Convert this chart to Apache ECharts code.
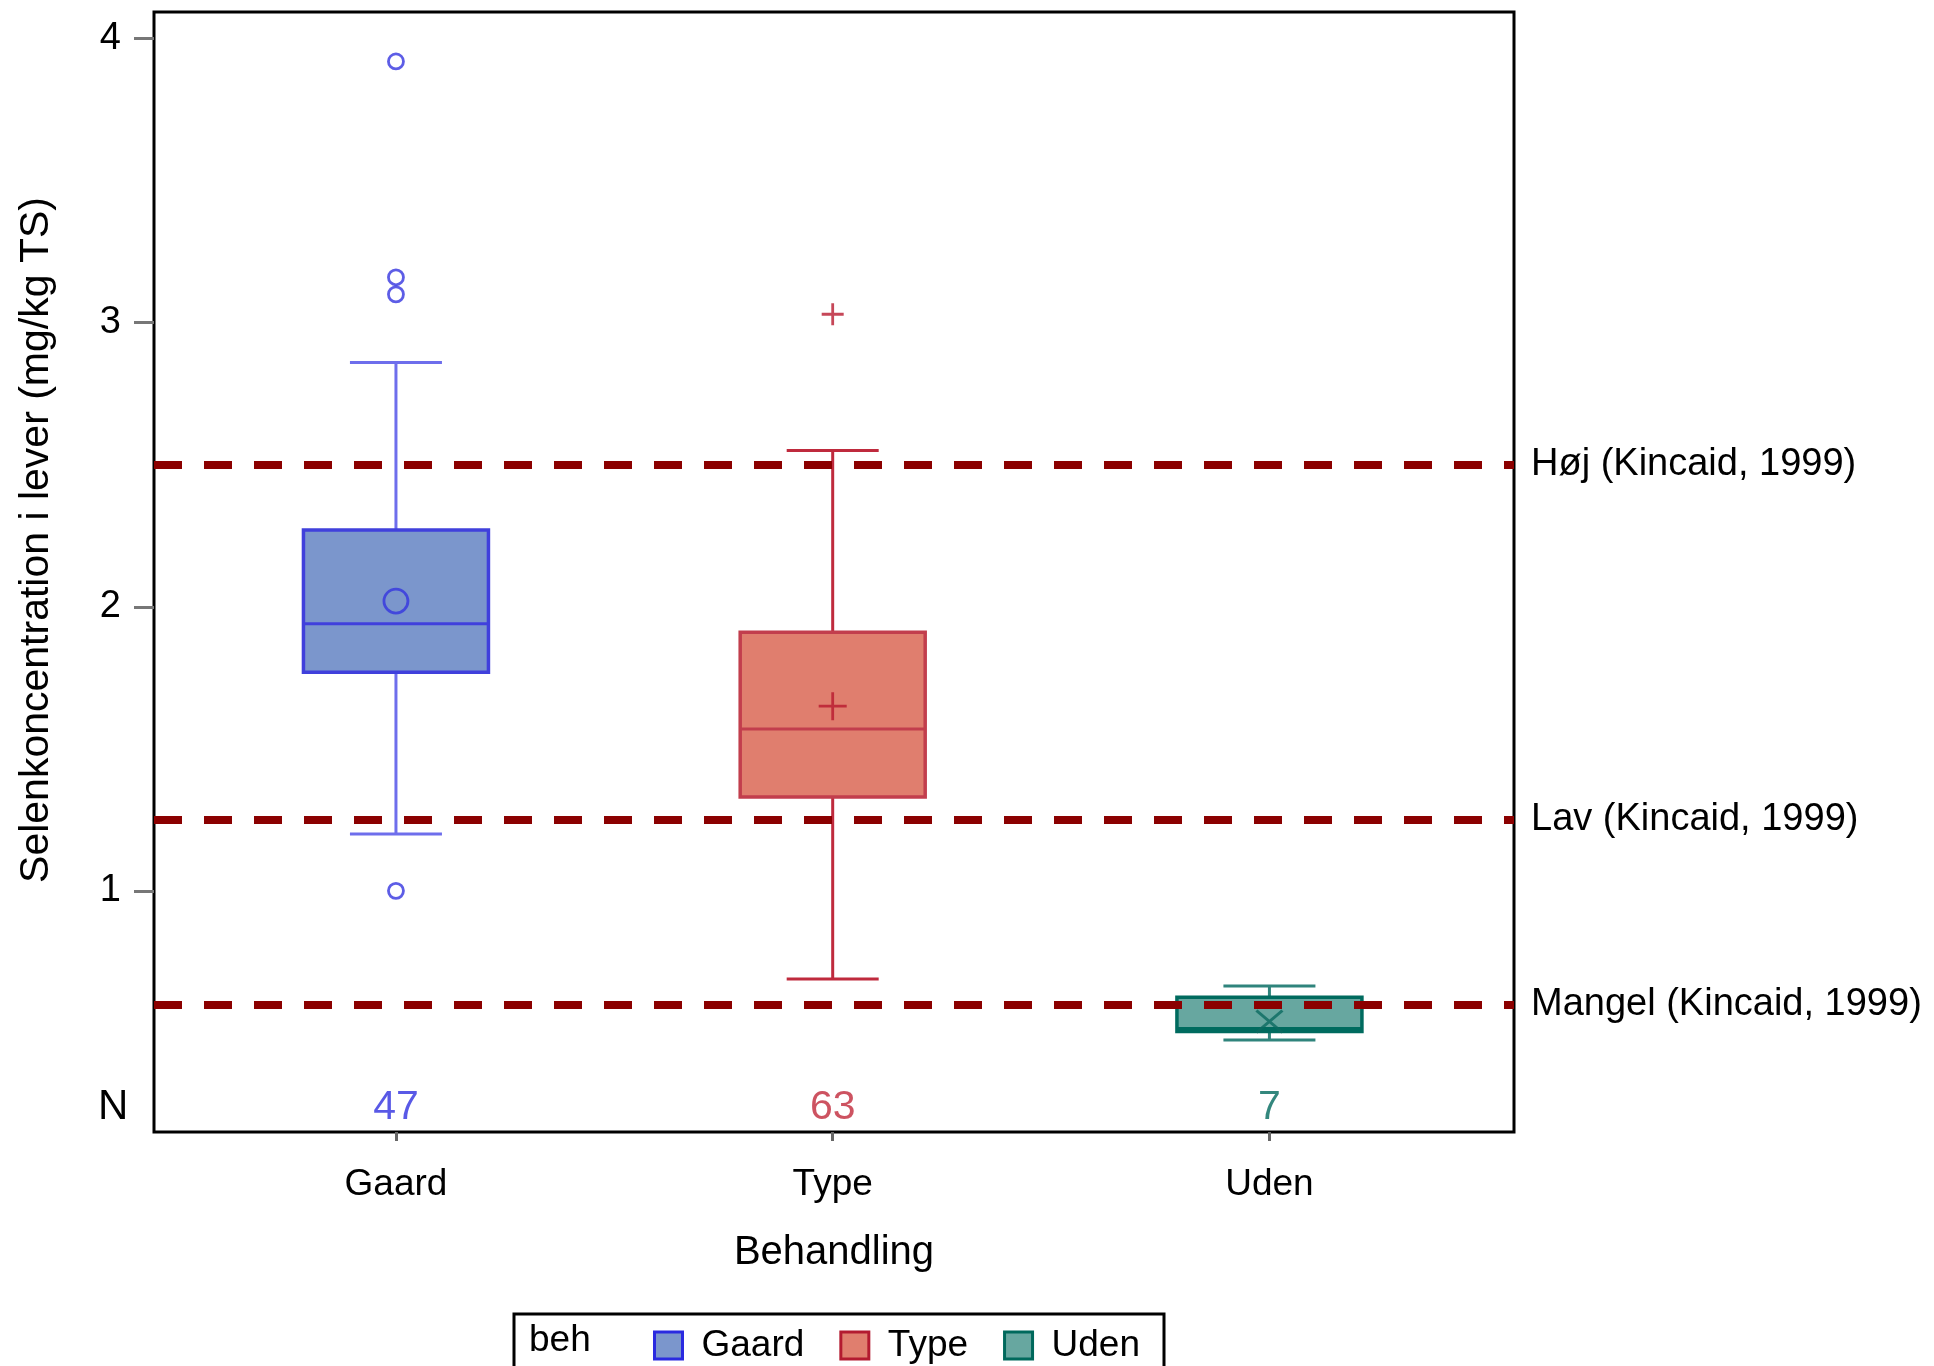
<!DOCTYPE html>
<html>
<head>
<meta charset="utf-8">
<title>Selenkoncentration i lever</title>
<style>
  html, body { margin: 0; padding: 0; background: #fff; }
  #chart { width: 1934px; height: 1366px; }
</style>
<script src="https://cdn.jsdelivr.net/npm/echarts@6/dist/echarts.min.js"></script>
</head>
<body>
<div id="chart"></div>
<script>
// ---- data ----
const categories = ['Gaard', 'Type', 'Uden'];
// five-number summaries: [lower whisker, Q1, median, Q3, upper whisker]
const gaardSummary = [1.20, 1.77, 1.94, 2.27, 2.86];
const typeSummary = [0.69, 1.33, 1.57, 1.91, 2.55];
const udenSummary = [0.475, 0.505, 0.515, 0.625, 0.665];
const groupMeans = [2.02, 1.65, 0.54];
const gaardOutliers = [3.92, 3.16, 3.10, 1.00];
const typeOutliers = [3.03];
const udenOutliers = [];
const groupCounts = [47, 63, 7];
const refValues = [2.5, 1.25, 0.6];
const refNames = ['Høj (Kincaid, 1999)', 'Lav (Kincaid, 1999)', 'Mangel (Kincaid, 1999)'];
const yTickValues = [1, 2, 3, 4];
const xTickValues = [1, 2, 3];

// ---- styling ----
const FONT = '"Liberation Sans", Arial, Helvetica, sans-serif';
const groupStyles = [
  { fill: '#7b96cc', edge: '#4040dc', whisker: '#6e6eec', marker: '#3535e0', text: '#3030e0', legendEdge: '#2a2ae0' },
  { fill: '#e07e6e', edge: '#c23e4d', whisker: '#bf2a3d', marker: '#b8192e', text: '#c0283a', legendEdge: '#b31b30' },
  { fill: '#67a7a0', edge: '#006b5f', whisker: '#2f847c', marker: '#0b6a60', text: '#00695c', legendEdge: '#00695c' }
];
const PLUS = 'path://M0,-1L0,1M-1,0L1,0';
const CROSS = 'path://M-1,-1L1,1M1,-1L-1,1';
const meanSymbols = [
  { symbol: 'circle', size: 24 },
  { symbol: PLUS, size: 28 },
  { symbol: CROSS, size: [26, 22] }
];
const outlierSymbols = [
  { symbol: 'circle', size: 15 },
  { symbol: PLUS, size: 22 },
  { symbol: CROSS, size: 18 }
];
const BOX_PX = 185;
const CAP_PX = 92;
const N_ROW = 0.238;

const summaries = [gaardSummary, typeSummary, udenSummary];
const outlierSets = [gaardOutliers, typeOutliers, udenOutliers];

function renderBox(params, api) {
  const st = groupStyles[params.seriesIndex];
  const x = api.value(0);
  const lo = api.coord([x, api.value(1)]);
  const q1 = api.coord([x, api.value(2)]);
  const md = api.coord([x, api.value(3)]);
  const q3 = api.coord([x, api.value(4)]);
  const hi = api.coord([x, api.value(5)]);
  const cx = lo[0];
  const bh = BOX_PX / 2, ch = CAP_PX / 2;
  const wStyle = { stroke: st.whisker, lineWidth: 3 };
  return {
    type: 'group',
    children: [
      { type: 'line', shape: { x1: cx, y1: q3[1], x2: cx, y2: hi[1] }, style: wStyle },
      { type: 'line', shape: { x1: cx, y1: q1[1], x2: cx, y2: lo[1] }, style: wStyle },
      { type: 'line', shape: { x1: cx - ch, y1: hi[1], x2: cx + ch, y2: hi[1] }, style: wStyle },
      { type: 'line', shape: { x1: cx - ch, y1: lo[1], x2: cx + ch, y2: lo[1] }, style: wStyle },
      { type: 'rect', shape: { x: cx - bh, y: q3[1], width: BOX_PX, height: q1[1] - q3[1] },
        style: { fill: st.fill, stroke: st.edge, lineWidth: 3.5 } },
      { type: 'line', shape: { x1: cx - bh, y1: md[1], x2: cx + bh, y2: md[1] },
        style: { stroke: st.edge, lineWidth: 3 } }
    ]
  };
}

const boxSeries = categories.map((name, i) => ({
  name: name,
  type: 'custom',
  z: 2,
  renderItem: renderBox,
  encode: { x: 0, y: [1, 2, 3, 4, 5] },
  itemStyle: { color: groupStyles[i].fill },
  data: [[xTickValues[i]].concat(summaries[i])]
}));

const meanSeries = {
  name: 'means',
  type: 'scatter',
  z: 6,
  silent: true,
  data: groupMeans.map((m, i) => ({
    value: [xTickValues[i], m],
    symbol: meanSymbols[i].symbol,
    symbolSize: meanSymbols[i].size,
    itemStyle: { color: 'transparent', borderColor: groupStyles[i].marker, borderWidth: 2.8 }
  }))
};

const outlierSeries = {
  name: 'outliers',
  type: 'scatter',
  z: 6,
  silent: true,
  data: outlierSets.flatMap((vals, i) => vals.map(v => ({
    value: [xTickValues[i], v],
    symbol: outlierSymbols[i].symbol,
    symbolSize: outlierSymbols[i].size,
    itemStyle: { color: 'transparent', borderColor: groupStyles[i].marker, borderWidth: 2.8 }
  })))
};

const countSeries = {
  name: 'counts',
  type: 'scatter',
  z: 6,
  silent: true,
  symbolSize: 0,
  data: groupCounts.map((n, i) => ({
    value: [xTickValues[i], N_ROW],
    label: {
      show: true, position: 'inside', formatter: String(n),
      color: groupStyles[i].text, fontSize: 41, fontFamily: FONT
    }
  })),
  markLine: {
    silent: true,
    z: 4,
    symbol: ['none', 'none'],
    lineStyle: { color: '#8b0000', width: 8, type: [28, 22], opacity: 1 },
    label: {
      show: true, position: 'end', distance: 17,
      color: '#000', fontSize: 38, fontFamily: FONT
    },
    emphasis: { disabled: true },
    data: refValues.map((v, i) => ({ yAxis: v, label: { formatter: refNames[i] } }))
  }
};

const chart = echarts.init(document.getElementById('chart'), null, { renderer: 'canvas' });
chart.setOption({
  animation: false,
  backgroundColor: '#fff',
  textStyle: { fontFamily: FONT },
  grid: {
    left: 154, top: 12, right: 420, bottom: 234,
    show: true, borderColor: '#000', borderWidth: 3, backgroundColor: 'transparent',
    outerBoundsMode: 'none'
  },
  xAxis: {
    type: 'value',
    min: 0.446, max: 3.56,
    name: 'Behandling',
    nameLocation: 'middle',
    nameGap: 101,
    nameTextStyle: { color: '#000', fontSize: 40, fontFamily: FONT },
    axisLine: { show: false },
    splitLine: { show: false },
    axisTick: { show: true, customValues: xTickValues, length: 9, lineStyle: { color: '#666', width: 3 } },
    axisLabel: {
      customValues: xTickValues, margin: 34, color: '#000', fontSize: 37, fontFamily: FONT,
      formatter: v => categories[Math.round(v) - 1]
    }
  },
  yAxis: {
    type: 'value',
    min: 0.151, max: 4.094,
    axisLine: { show: false },
    splitLine: { show: false },
    axisTick: { show: true, customValues: yTickValues, length: 20, lineStyle: { color: '#777', width: 3 } },
    axisLabel: { customValues: yTickValues, margin: 33, color: '#000', fontSize: 38, fontFamily: FONT }
  },
  legend: {
    left: 514, top: 1314,
    orient: 'horizontal',
    selectedMode: false,
    borderColor: '#000', borderWidth: 3,
    padding: [13, 24, 28, 139],
    itemWidth: 28, itemHeight: 27, itemGap: 35,
    icon: 'rect',
    textStyle: { color: '#000', fontSize: 37, fontFamily: FONT, padding: [0, 0, 0, 14] },
    data: categories.map((name, i) => ({
      name: name,
      itemStyle: { color: groupStyles[i].fill, borderColor: groupStyles[i].legendEdge, borderWidth: 3 }
    }))
  },
  graphic: [
    {
      type: 'text', x: 37, y: 540, rotation: Math.PI / 2,
      style: { text: 'Selenkoncentration i lever (mg/kg TS)', fontSize: 41, fontFamily: FONT,
               fill: '#000', align: 'center', verticalAlign: 'middle' }
    },
    {
      type: 'text', x: 98, y: 1107,
      style: { text: 'N', fontSize: 42, fontFamily: FONT, fill: '#000', align: 'left', verticalAlign: 'middle' }
    },
    {
      type: 'text', x: 529, y: 1341,
      style: { text: 'beh', fontSize: 37, fontFamily: FONT, fill: '#000', align: 'left', verticalAlign: 'middle' }
    }
  ],
  series: boxSeries.concat([countSeries, meanSeries, outlierSeries])
});
</script>
</body>
</html>
